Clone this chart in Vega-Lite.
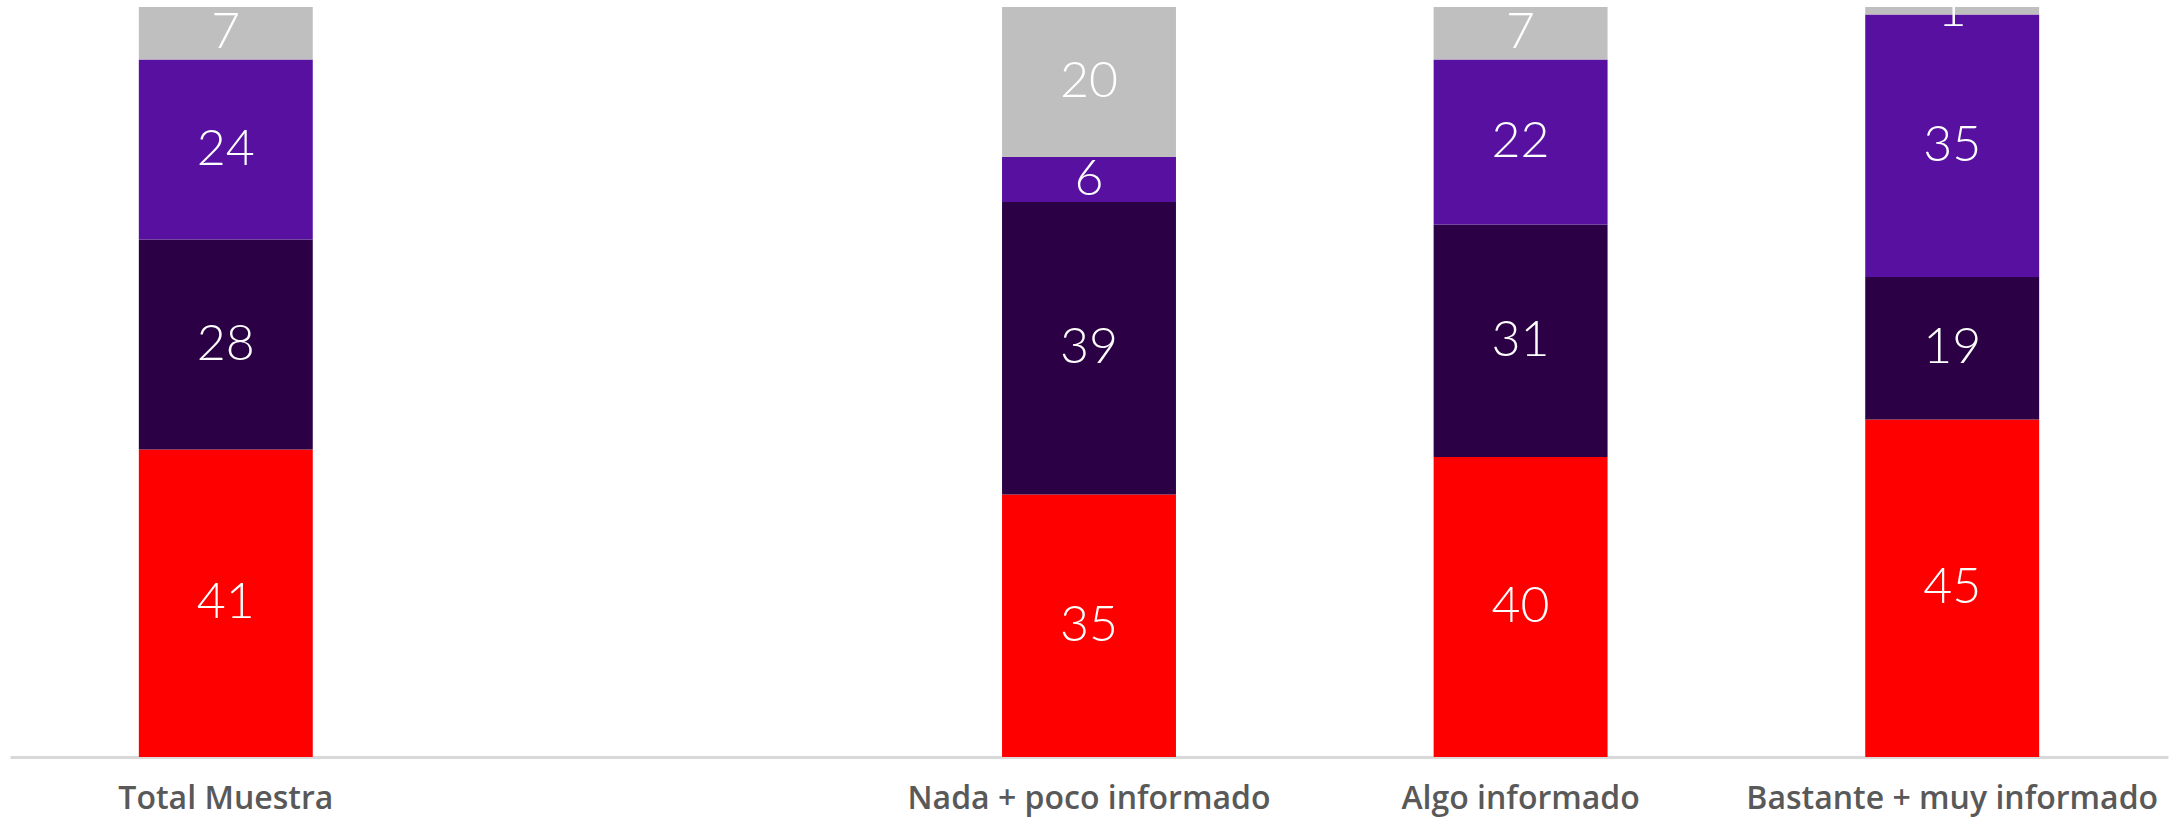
{
  "$schema": "https://vega.github.io/schema/vega-lite/v6.json",
  "autosize": {"type": "none"},
  "width": 2158,
  "height": 750,
  "padding": {"left": 10, "top": 7, "right": 11, "bottom": 62},
  "background": "white",
  "config": {"view": {"stroke": null}},
  "data": {
    "values": [
      {"grupo": "Total Muestra", "serie": "Serie 1", "valor": 41},
      {"grupo": "Total Muestra", "serie": "Serie 2", "valor": 28},
      {"grupo": "Total Muestra", "serie": "Serie 3", "valor": 24},
      {"grupo": "Total Muestra", "serie": "Serie 4", "valor": 7},
      {"grupo": "Nada + poco informado", "serie": "Serie 1", "valor": 35},
      {"grupo": "Nada + poco informado", "serie": "Serie 2", "valor": 39},
      {"grupo": "Nada + poco informado", "serie": "Serie 3", "valor": 6},
      {"grupo": "Nada + poco informado", "serie": "Serie 4", "valor": 20},
      {"grupo": "Algo informado", "serie": "Serie 1", "valor": 40},
      {"grupo": "Algo informado", "serie": "Serie 2", "valor": 31},
      {"grupo": "Algo informado", "serie": "Serie 3", "valor": 22},
      {"grupo": "Algo informado", "serie": "Serie 4", "valor": 7},
      {"grupo": "Bastante + muy informado", "serie": "Serie 1", "valor": 45},
      {"grupo": "Bastante + muy informado", "serie": "Serie 2", "valor": 19},
      {"grupo": "Bastante + muy informado", "serie": "Serie 3", "valor": 35},
      {"grupo": "Bastante + muy informado", "serie": "Serie 4", "valor": 1}
    ]
  },
  "transform": [
    {"stack": "valor", "groupby": ["grupo"], "sort": [{"field": "serie", "order": "ascending"}], "as": ["y0", "y1"]},
    {"calculate": "(datum.y0 + datum.y1) / 2", "as": "ymid"}
  ],
  "encoding": {
    "x": {
      "field": "grupo",
      "type": "nominal",
      "scale": {
        "domain": ["Total Muestra", " ", "Nada + poco informado", "Algo informado", "Bastante + muy informado"],
        "paddingInner": 0.597,
        "paddingOuter": 0.2985
      },
      "axis": {
        "title": null,
        "labelAngle": 0,
        "ticks": false,
        "domainColor": "#D9D9D9",
        "domainWidth": 3,
        "labelFont": "Open Sans",
        "labelFontSize": 32,
        "labelFontWeight": 600,
        "labelColor": "#595959",
        "labelPadding": 26,
        "labelLimit": 0,
        "grid": false
      }
    }
  },
  "layer": [
    {
      "mark": {"type": "bar"},
      "encoding": {
        "y": {"field": "y0", "type": "quantitative", "scale": {"domain": [0, 100]}, "axis": null},
        "y2": {"field": "y1"},
        "color": {
          "field": "serie",
          "type": "nominal",
          "scale": {
            "domain": ["Serie 1", "Serie 2", "Serie 3", "Serie 4"],
            "range": ["#FF0000", "#2B0044", "#5710A0", "#BFBFBF"]
          },
          "legend": null
        }
      }
    },
    {
      "mark": {"type": "text", "color": "white", "font": "Lato", "fontWeight": 300, "fontSize": 50, "baseline": "middle", "align": "center"},
      "encoding": {
        "y": {"field": "ymid", "type": "quantitative", "scale": {"domain": [0, 100]}, "axis": null},
        "text": {"field": "valor", "type": "quantitative"}
      }
    }
  ]
}
